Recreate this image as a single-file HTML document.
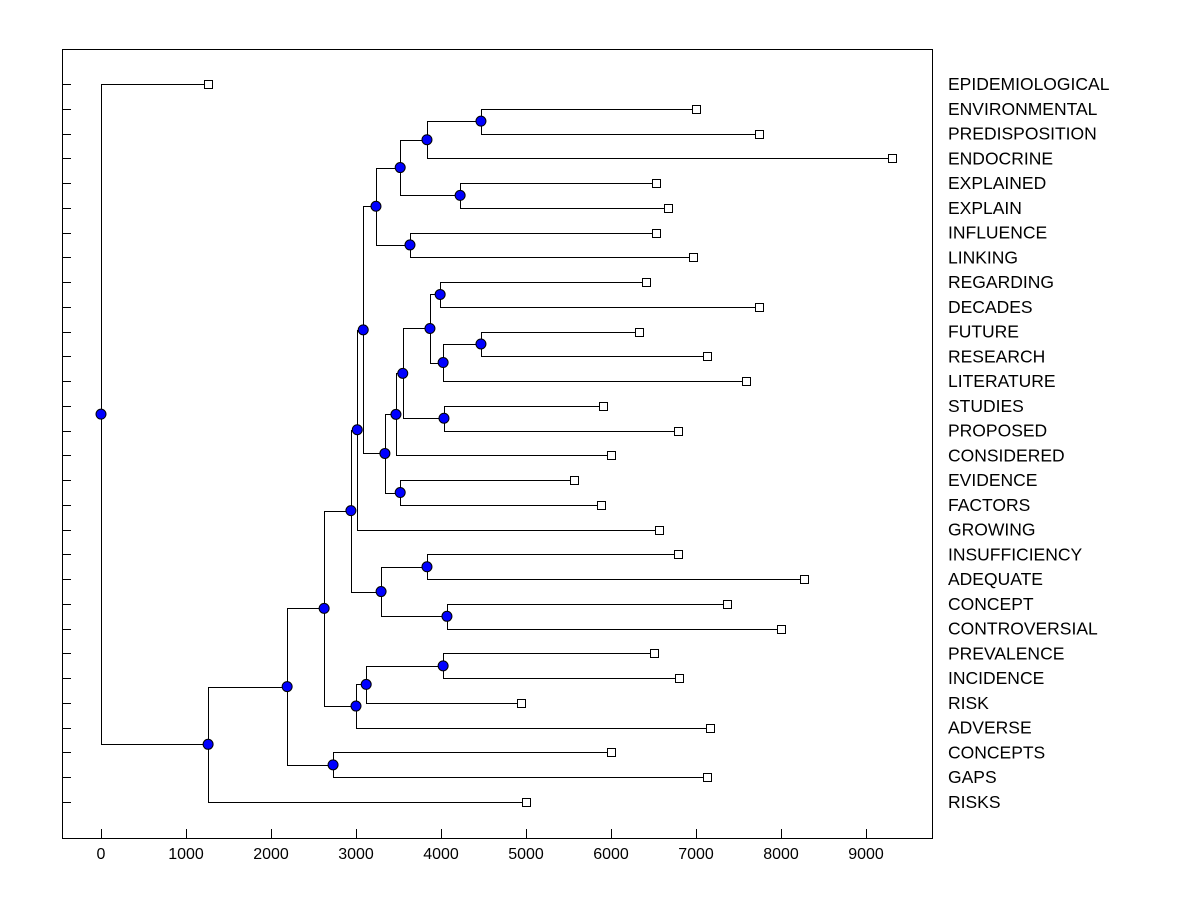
<!DOCTYPE html>
<html><head><meta charset="utf-8"><style>
html,body{margin:0;padding:0;background:#fff;}
svg text{font-family:"Liberation Sans",Arial,sans-serif;font-size:16px;fill:#000;}
svg text.leaf{font-size:17.5px;}
</style></head><body>
<svg id="chart" width="1200" height="900" xmlns="http://www.w3.org/2000/svg">
<rect x="62.5" y="49.5" width="870" height="789" fill="none" stroke="#000"/>
<g id="g"></g>
</svg>
<script>
const leafNames=["EPIDEMIOLOGICAL","ENVIRONMENTAL","PREDISPOSITION","ENDOCRINE","EXPLAINED","EXPLAIN","INFLUENCE","LINKING","REGARDING","DECADES","FUTURE","RESEARCH","LITERATURE","STUDIES","PROPOSED","CONSIDERED","EVIDENCE","FACTORS","GROWING","INSUFFICIENCY","ADEQUATE","CONCEPT","CONTROVERSIAL","PREVALENCE","INCIDENCE","RISK","ADVERSE","CONCEPTS","GAPS","RISKS"];
const leafValues=[1260,7000,7740,9306,6530,6670,6530,6965,6410,7740,6330,7130,7590,5905,6790,6000,5565,5880,6565,6790,8270,7365,8000,6505,6800,4940,7165,6000,7130,5000];
// merges: [childA, childB]; leaves are "L<i>", internal nodes "N<j>"
const mergeChildren=[["L1","L2"],["N0","L3"],["L4","L5"],["N1","N2"],["L6","L7"],["N3","N4"],["L8","L9"],["L10","L11"],["N7","L12"],["N6","N8"],["L13","L14"],["N9","N10"],["N11","L15"],["L16","L17"],["N12","N13"],["N5","N14"],["N15","L18"],["L19","L20"],["L21","L22"],["N17","N18"],["N16","N19"],["L23","L24"],["N21","L25"],["N22","L26"],["N20","N23"],["L27","L28"],["N24","N25"],["N26","L29"],["L0","N27"]];
const mergeHeights=[4470,3835,4225,3520,3635,3235,3990,4470,4025,3870,4035,3550,3470,3520,3340,3085,3015,3835,4070,3295,2940,4025,3120,3000,2625,2730,2190,1260,0];
const xTicks=[0,1000,2000,3000,4000,5000,6000,7000,8000,9000];

const NS="http://www.w3.org/2000/svg";
const g=document.getElementById('g');
const xs=v=>101+v*0.085;
const ys=i=>84+i*(802-84)/29;
function mk(t,a){const e=document.createElementNS(NS,t);for(const k in a)e.setAttribute(k,a[k]);g.appendChild(e);return e;}
xTicks.forEach(v=>{
  const l=mk('line',{x1:xs(v)+.5,x2:xs(v)+.5,y1:829,y2:838,stroke:'#000'});
  
  
  const t=mk('text',{x:xs(v),y:859,'text-anchor':'middle'});t.textContent=v;
  
  
});
leafNames.forEach((n,i)=>{
  const y=Math.round(ys(i))+.5;
  const l=mk('line',{x1:62,x2:71,y1:y,y2:y,stroke:'#000'});
  
  
  const t=mk('text',{x:948,y:ys(i)+6,'class':'leaf'});t.textContent=n;
  
  
});
const pos={};
leafValues.forEach((v,i)=>pos['L'+i]={x:xs(v),y:ys(i)});
mergeChildren.forEach((c,j)=>{
  const a=pos[c[0]],b=pos[c[1]];const x=xs(mergeHeights[j]);
  pos['N'+j]={x:x,y:(a.y+b.y)/2};
});
mergeChildren.forEach((c,j)=>{
  const p=pos['N'+j],a=pos[c[0]],b=pos[c[1]];
  const X=Math.round(p.x)+.5;
  const l=mk('path',{d:`M${Math.round(a.x)} ${Math.round(a.y)+.5}H${X}V${Math.round(b.y)+.5}H${Math.round(b.x)}`,fill:'none',stroke:'#000'});
  
  
});
leafValues.forEach((v,i)=>{
  const p=pos['L'+i];
  const r=mk('rect',{x:Math.round(p.x)-3.5,y:Math.round(p.y)-3.5,width:8,height:8,fill:'#fff',stroke:'#000'});
  
  
});
mergeChildren.forEach((c,j)=>{
  const p=pos['N'+j];
  const e=mk('circle',{cx:p.x,cy:p.y,r:5,fill:'#0000ff',stroke:'#000'});
  
  
});
</script>
</body></html>
